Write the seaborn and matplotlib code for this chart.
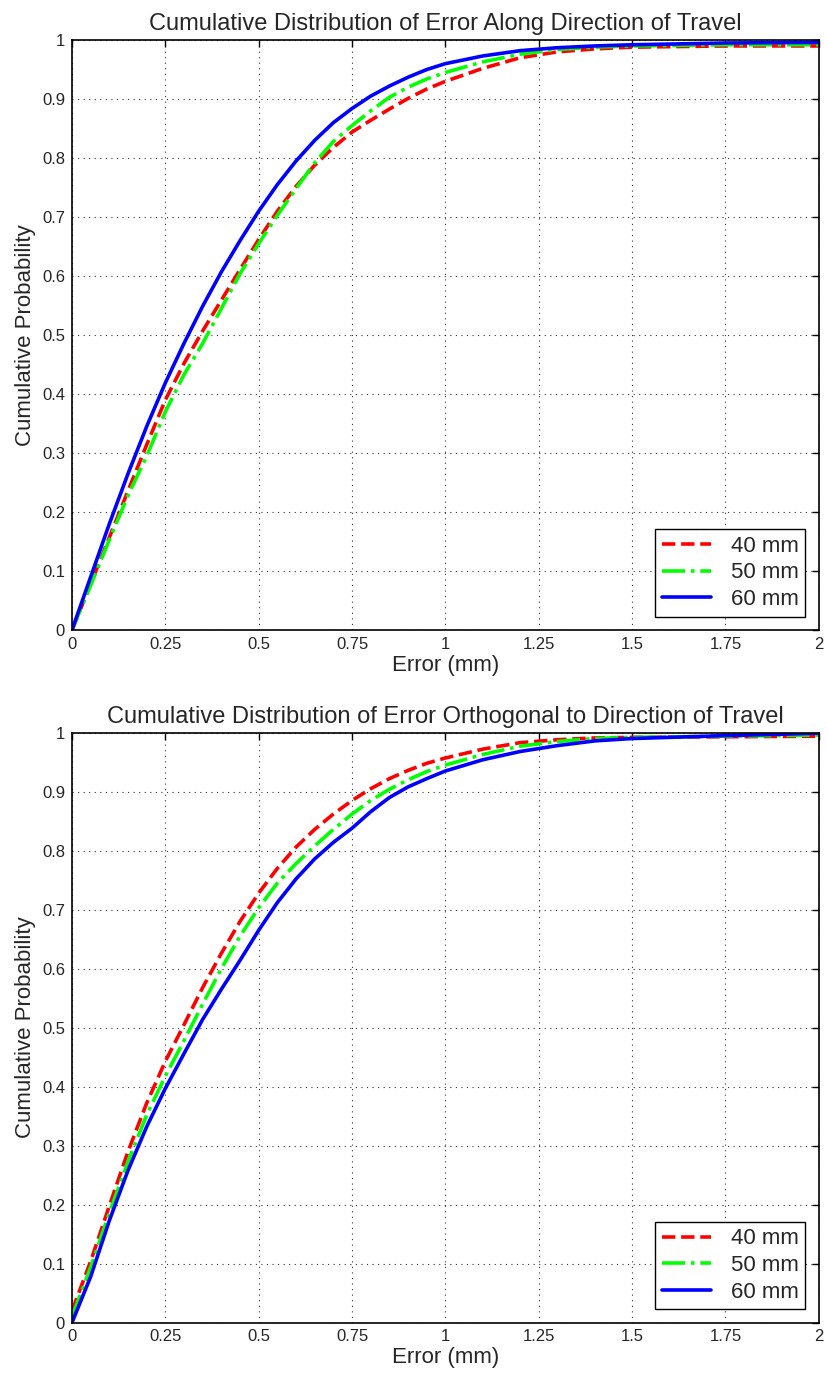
import matplotlib
matplotlib.use("Agg")
import matplotlib.pyplot as plt
import seaborn as sns
import pandas as pd

# ---- data ----
x_err = [0, 0.05, 0.1, 0.15, 0.2, 0.25, 0.3, 0.35, 0.4, 0.45, 0.5, 0.55, 0.6, 0.65, 0.7,
         0.75, 0.8, 0.85, 0.9, 0.95, 1.0, 1.1, 1.2, 1.3, 1.4, 1.5, 1.75, 2.0]

along_40 = [0, 0.078, 0.157, 0.236, 0.314, 0.39, 0.452, 0.507, 0.559, 0.611, 0.662, 0.71, 0.752, 0.788, 0.818,
            0.844, 0.864, 0.883, 0.901, 0.917, 0.93, 0.952, 0.97, 0.98, 0.985, 0.988, 0.99, 0.99]
along_50 = [0, 0.076, 0.153, 0.228, 0.295, 0.37, 0.433, 0.486, 0.545, 0.604, 0.655, 0.703, 0.748, 0.792, 0.828,
            0.855, 0.88, 0.903, 0.92, 0.934, 0.945, 0.963, 0.976, 0.984, 0.988, 0.99, 0.992, 0.992]
along_60 = [0, 0.09, 0.18, 0.265, 0.345, 0.419, 0.486, 0.549, 0.607, 0.66, 0.71, 0.755, 0.795, 0.83, 0.86,
            0.884, 0.905, 0.922, 0.937, 0.95, 0.96, 0.973, 0.982, 0.987, 0.99, 0.992, 0.995, 0.996]

orth_40 = [0.02, 0.104, 0.198, 0.29, 0.372, 0.443, 0.505, 0.568, 0.626, 0.68, 0.728, 0.77, 0.806, 0.836, 0.862,
           0.885, 0.905, 0.922, 0.936, 0.948, 0.957, 0.972, 0.983, 0.988, 0.991, 0.992, 0.993, 0.994]
orth_50 = [0.01, 0.094, 0.186, 0.273, 0.352, 0.418, 0.478, 0.54, 0.6, 0.655, 0.703, 0.745, 0.778, 0.808, 0.836,
           0.862, 0.885, 0.904, 0.92, 0.934, 0.945, 0.963, 0.977, 0.985, 0.99, 0.992, 0.994, 0.996]
orth_60 = [0, 0.078, 0.173, 0.258, 0.332, 0.397, 0.456, 0.514, 0.565, 0.614, 0.665, 0.712, 0.752, 0.786, 0.814,
           0.838, 0.866, 0.89, 0.908, 0.922, 0.935, 0.954, 0.968, 0.978, 0.986, 0.99, 0.995, 0.999]

labels = ["40 mm", "50 mm", "60 mm"]
colors = ["#ff0000", "#00ff00", "#0000ff"]
styles = ["--", "-.", "-"]

titles = ["Cumulative Distribution of Error Along Direction of Travel",
          "Cumulative Distribution of Error Orthogonal to Direction of Travel"]
xticks = [0, 0.25, 0.5, 0.75, 1, 1.25, 1.5, 1.75, 2]
xticklabels = ["0", "0.25", "0.5", "0.75", "1", "1.25", "1.5", "1.75", "2"]
yticks = [0, 0.1, 0.2, 0.3, 0.4, 0.5, 0.6, 0.7, 0.8, 0.9, 1.0]
yticklabels = ["0", "0.1", "0.2", "0.3", "0.4", "0.5", "0.6", "0.7", "0.8", "0.9", "1"]

sns.set_style("white")
plt.rcParams["font.family"] = ["Liberation Sans", "DejaVu Sans"]

fig = plt.figure(figsize=(8.27, 13.86), dpi=100)
ax1 = fig.add_axes([0.0871, 0.5455, 0.9029, 0.4256])
ax2 = fig.add_axes([0.0871, 0.0458, 0.9029, 0.4256])

panels = [(ax1, [along_40, along_50, along_60], titles[0]),
          (ax2, [orth_40, orth_50, orth_60], titles[1])]

for ax, series, title in panels:
    for vals, lab, col, ls in zip(series, labels, colors, styles):
        df = pd.DataFrame({"x": x_err, "y": vals})
        sns.lineplot(data=df, x="x", y="y", ax=ax, color=col, linestyle=ls,
                     linewidth=2.6, label=lab)
    ax.set_xlim(0, 2)
    ax.set_ylim(0, 1)
    ax.set_xticks(xticks)
    ax.set_xticklabels(xticklabels)
    ax.set_yticks(yticks)
    ax.set_yticklabels(yticklabels)
    ax.tick_params(direction="in", top=True, right=True, length=5, width=1,
                   labelsize=12, color="black", pad=5)
    ax.grid(True, linestyle=(0, (1, 4)), color="black", linewidth=0.8, alpha=0.8)
    for sp in ax.spines.values():
        sp.set_color("black")
        sp.set_linewidth(1.2)
    ax.set_xlabel("Error (mm)", fontsize=16, labelpad=2)
    ax.set_ylabel("Cumulative Probability", fontsize=16, labelpad=4)
    ax.set_title(title, fontsize=17, pad=7)
    leg = ax.legend(loc="lower right", fontsize=16, frameon=True, fancybox=False,
                    edgecolor="black", framealpha=1, borderaxespad=0.6,
                    handlelength=2.2, labelspacing=0.25, borderpad=0.3,
                    handletextpad=0.9)
    leg.get_frame().set_linewidth(1.0)

fig.savefig("out.png", dpi=100)
